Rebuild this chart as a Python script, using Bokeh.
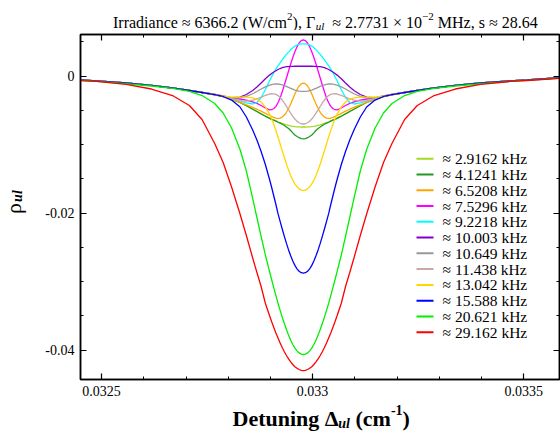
import math
from bokeh.plotting import figure
from bokeh.layouts import column, row
from bokeh.models import (Range1d, LinearAxis, FixedTicker, CustomJSTickFormatter,
                          Label, Arrow)
from bokeh.embed import file_html
from bokeh.resources import INLINE

# ---------------- data ----------------
CENTER = 0.032978  # line centre (cm^-1)
# detuning offsets from the centre (cm^-1); profiles are symmetric about CENTER
OFFSETS = [0.0, 0.000005, 0.00001, 0.000015, 0.00002, 0.000025, 0.00003, 0.000035,
           0.00004, 0.000045, 0.00005, 0.000055, 0.00006, 0.000065, 0.00007, 0.000075,
           0.00008, 0.00009, 0.0001, 0.00011, 0.00012, 0.000135, 0.00015, 0.00017,
           0.00019, 0.00021, 0.00024, 0.00027, 0.00031, 0.00036, 0.00042, 0.00049,
           0.00053, 0.00061]

LABELS = ["≈ 2.9162 kHz", "≈ 4.1241 kHz", "≈ 6.5208 kHz", "≈ 7.5296 kHz",
          "≈ 9.2218 kHz", "≈ 10.003 kHz", "≈ 10.649 kHz", "≈ 11.438 kHz",
          "≈ 13.042 kHz", "≈ 15.588 kHz", "≈ 20.621 kHz", "≈ 29.162 kHz"]
COLORS = ["#a6d81e", "#229922", "#ffa500", "#ff00ff", "#00ffff", "#8000d0",
          "#999999", "#c8a8a8", "#ffd700", "#0000ff", "#00f000", "#ff0000"]

RHO_2_9162 = [-0.00742, -0.00742, -0.00740, -0.00739, -0.00736, -0.00732, -0.00726, -0.00718, -0.00710, -0.00699,
              -0.00689, -0.00677, -0.00666, -0.00653, -0.00640, -0.00626, -0.00612, -0.00581, -0.00548, -0.00513,
              -0.00479, -0.00428, -0.00384, -0.00337, -0.00299, -0.00272, -0.00238, -0.00209, -0.00172, -0.00133,
              -0.00099, -0.00067, -0.00053, -0.00022]
RHO_4_1241 = [-0.00914, -0.00910, -0.00898, -0.00880, -0.00859, -0.00828, -0.00793, -0.00764, -0.00742, -0.00720,
              -0.00702, -0.00686, -0.00672, -0.00656, -0.00642, -0.00629, -0.00615, -0.00584, -0.00550, -0.00515,
              -0.00482, -0.00431, -0.00384, -0.00337, -0.00299, -0.00272, -0.00238, -0.00209, -0.00172, -0.00133,
              -0.00099, -0.00067, -0.00053, -0.00022]
RHO_6_5208 = [-0.00102, -0.00112, -0.00143, -0.00194, -0.00260, -0.00334, -0.00407, -0.00472, -0.00527, -0.00568,
              -0.00596, -0.00612, -0.00616, -0.00612, -0.00602, -0.00588, -0.00574, -0.00542, -0.00511, -0.00482,
              -0.00456, -0.00418, -0.00381, -0.00334, -0.00296, -0.00270, -0.00238, -0.00209, -0.00172, -0.00133,
              -0.00099, -0.00067, -0.00053, -0.00022]
RHO_7_5296 = [0.00531, 0.00520, 0.00485, 0.00429, 0.00358, 0.00273, 0.00178, 0.00076, -0.00026, -0.00129,
              -0.00228, -0.00318, -0.00388, -0.00440, -0.00472, -0.00489, -0.00491, -0.00464, -0.00428, -0.00396,
              -0.00374, -0.00349, -0.00333, -0.00315, -0.00289, -0.00267, -0.00238, -0.00209, -0.00172, -0.00133,
              -0.00099, -0.00067, -0.00053, -0.00022]
RHO_9_2218 = [0.00473, 0.00472, 0.00466, 0.00456, 0.00440, 0.00416, 0.00387, 0.00352, 0.00320, 0.00280,
              0.00238, 0.00193, 0.00150, 0.00104, 0.00054, -0.00007, -0.00067, -0.00197, -0.00311, -0.00384,
              -0.00406, -0.00391, -0.00362, -0.00326, -0.00294, -0.00267, -0.00238, -0.00209, -0.00172, -0.00133,
              -0.00099, -0.00067, -0.00053, -0.00022]
RHO_10_003 = [0.00145, 0.00145, 0.00145, 0.00145, 0.00145, 0.00143, 0.00142, 0.00140, 0.00139, 0.00133,
              0.00124, 0.00112, 0.00098, 0.00080, 0.00061, 0.00039, 0.00016, -0.00038, -0.00099, -0.00158,
              -0.00209, -0.00267, -0.00304, -0.00318, -0.00294, -0.00267, -0.00238, -0.00209, -0.00172, -0.00133,
              -0.00099, -0.00067, -0.00053, -0.00022]
RHO_10_649 = [-0.00223, -0.00222, -0.00218, -0.00210, -0.00202, -0.00190, -0.00177, -0.00164, -0.00149, -0.00136,
              -0.00126, -0.00118, -0.00114, -0.00114, -0.00117, -0.00123, -0.00131, -0.00155, -0.00187, -0.00223,
              -0.00256, -0.00294, -0.00315, -0.00318, -0.00292, -0.00267, -0.00238, -0.00209, -0.00172, -0.00133,
              -0.00099, -0.00067, -0.00053, -0.00022]
RHO_11_438 = [-0.00698, -0.00694, -0.00680, -0.00657, -0.00625, -0.00586, -0.00540, -0.00491, -0.00440, -0.00391,
              -0.00348, -0.00311, -0.00283, -0.00266, -0.00257, -0.00256, -0.00260, -0.00279, -0.00304, -0.00329,
              -0.00348, -0.00364, -0.00358, -0.00329, -0.00296, -0.00267, -0.00238, -0.00209, -0.00172, -0.00133,
              -0.00099, -0.00067, -0.00053, -0.00022]
RHO_13_042 = [-0.01669, -0.01663, -0.01645, -0.01615, -0.01572, -0.01517, -0.01450, -0.01371, -0.01282, -0.01187,
              -0.01088, -0.00987, -0.00888, -0.00793, -0.00705, -0.00623, -0.00553, -0.00447, -0.00377, -0.00337,
              -0.00317, -0.00305, -0.00305, -0.00304, -0.00286, -0.00267, -0.00238, -0.00209, -0.00172, -0.00133,
              -0.00099, -0.00067, -0.00053, -0.00022]
RHO_15_588 = [-0.02876, -0.02869, -0.02847, -0.02812, -0.02762, -0.02698, -0.02622, -0.02536, -0.02441, -0.02339,
              -0.02231, -0.02120, -0.02007, -0.01873, -0.01749, -0.01625, -0.01508, -0.01289, -0.01099, -0.00932,
              -0.00786, -0.00596, -0.00450, -0.00348, -0.00296, -0.00270, -0.00238, -0.00209, -0.00172, -0.00133,
              -0.00099, -0.00067, -0.00053, -0.00022]
RHO_20_621 = [-0.04063, -0.04057, -0.04040, -0.04010, -0.03970, -0.03917, -0.03854, -0.03780, -0.03698, -0.03610,
              -0.03517, -0.03418, -0.03314, -0.03204, -0.03091, -0.02972, -0.02854, -0.02610, -0.02340, -0.02063,
              -0.01785, -0.01384, -0.01070, -0.00756, -0.00537, -0.00399, -0.00282, -0.00223, -0.00178, -0.00143,
              -0.00110, -0.00075, -0.00060, -0.00028]
RHO_29_162 = [-0.04297, -0.04294, -0.04282, -0.04264, -0.04241, -0.04209, -0.04171, -0.04127, -0.04078, -0.04022,
              -0.03961, -0.03895, -0.03823, -0.03749, -0.03669, -0.03586, -0.03498, -0.03315, -0.03070, -0.02866,
              -0.02654, -0.02326, -0.02012, -0.01618, -0.01260, -0.00983, -0.00632, -0.00428, -0.00282, -0.00187,
              -0.00118, -0.00077, -0.00063, -0.00031]

SERIES = [RHO_2_9162, RHO_4_1241, RHO_6_5208, RHO_7_5296, RHO_9_2218, RHO_10_003,
          RHO_10_649, RHO_11_438, RHO_13_042, RHO_15_588, RHO_20_621, RHO_29_162]

X_TICKS = [0.0325, 0.033, 0.0335]
Y_TICKS = [-0.04, -0.02, 0.0]
X_MINOR = [0.0325, 0.0326, 0.0327, 0.0328, 0.0329, 0.033, 0.0331, 0.0332, 0.0333, 0.0334, 0.0335]
Y_MINOR = [-0.04, -0.035, -0.03, -0.025, -0.02, -0.015, -0.01, -0.005, 0.0, 0.005]
X_RANGE = (0.03245, 0.033585)
Y_RANGE = (-0.04428, 0.006088)

SERIF = "Liberation Serif"

# ---------------- main figure ----------------
p = figure(width=524, height=374, title=None,
           x_range=Range1d(*X_RANGE), y_range=Range1d(*Y_RANGE),
           output_backend="svg", toolbar_location=None,
           min_border_left=44, min_border_right=1, min_border_top=4, min_border_bottom=25)
p.xgrid.visible = False
p.ygrid.visible = False
p.outline_line_color = "black"
p.outline_line_width = 1.5
p.background_fill_color = "white"
p.border_fill_color = "white"

fmt = CustomJSTickFormatter(code="return parseFloat(tick.toFixed(6)).toString();")
blank = CustomJSTickFormatter(code="return '';")


def style_axis(ax, ticks, minor, show_labels):
    ax.ticker = FixedTicker(ticks=ticks, minor_ticks=minor)
    ax.axis_line_color = "black"
    ax.axis_line_width = 1.5
    ax.major_tick_line_color = "black"
    ax.minor_tick_line_color = "black"
    ax.major_tick_line_width = 1.2
    ax.minor_tick_line_width = 1.0
    ax.major_tick_in = 6
    ax.major_tick_out = 0
    ax.minor_tick_in = 3
    ax.minor_tick_out = 0
    if show_labels:
        ax.formatter = fmt
        ax.major_label_text_font = SERIF
        ax.major_label_text_font_size = "14px"
        ax.major_label_text_color = "black"
        ax.major_label_standoff = 6
    else:
        ax.formatter = blank
        ax.major_label_text_font_size = "0px"
        ax.major_label_standoff = 0


style_axis(p.xaxis[0], X_TICKS, X_MINOR, True)
style_axis(p.yaxis[0], Y_TICKS, Y_MINOR, True)
top_ax = LinearAxis()
right_ax = LinearAxis()
style_axis(top_ax, X_TICKS, X_MINOR, False)
style_axis(right_ax, Y_TICKS, Y_MINOR, False)
p.add_layout(top_ax, "above")
p.add_layout(right_ax, "right")

xs = [CENTER - o for o in reversed(OFFSETS[1:])] + [CENTER + o for o in OFFSETS]
for col, half in zip(COLORS, SERIES):
    ys = list(reversed(half[1:])) + list(half)
    p.line(xs, ys, line_color=col, line_width=1.3)

# legend: samples + labels, in frame-relative screen units
LEG_X0, LEG_X1, LEG_TX = 336, 353, 362     # sample start/end, text start
LEG_Y0, LEG_DY = 220.7, 15.76              # first row centre (from frame bottom), row pitch
for i, (lab_text, col) in enumerate(zip(LABELS, COLORS)):
    yy = LEG_Y0 - i * LEG_DY
    p.add_layout(Arrow(x_start=LEG_X0, y_start=yy, x_end=LEG_X1, y_end=yy,
                       start_units="screen", end_units="screen", end=None, start=None,
                       line_color=col, line_width=2))
    p.add_layout(Label(x=LEG_TX, y=yy, x_units="screen", y_units="screen", text=lab_text,
                       text_font=SERIF, text_font_size="15.5px", text_color="black",
                       text_align="left", text_baseline="middle"))


# ---------------- text strips (their frame is the whole canvas) ----------------
def strip(w, h):
    f = figure(width=w, height=h, title=None, x_range=Range1d(0, 1), y_range=Range1d(0, 1),
               x_axis_type=None, y_axis_type=None, output_backend="svg",
               toolbar_location=None, min_border=0)
    f.outline_line_color = None
    f.background_fill_color = "white"
    f.border_fill_color = "white"
    return f


def lab(fig, text, x, y, size, style="normal", angle=0.0):
    fig.add_layout(Label(x=x, y=y, x_units="screen", y_units="screen", text=text,
                         text_font=SERIF, text_font_size=f"{size}px", text_font_style=style,
                         text_color="black", text_align="left", text_baseline="alphabetic",
                         angle=angle))


# title strip
t = strip(560, 30)
TY = 8
lab(t, "Irradiance ≈ 6366.2 (W/cm", 112.5, TY, 16)
lab(t, "2", 286.6, TY + 6, 11)
lab(t, "),", 292.1, TY, 16)
lab(t, "Γ", 305.4, TY, 16)
lab(t, "ul", 315.2, TY - 3, 11, "italic")
lab(t, "≈ 2.7731 × 10", 331.8, TY, 16)
lab(t, "−2", 421.6, TY + 6, 11)
lab(t, "MHz, s ≈ 28.64", 437.3, TY, 16)

# y-label strip
yl = strip(36, 374)
lab(yl, "ρ", 13, 165.5, 22, "normal", math.pi / 2)
lab(yl, "ul", 17, 177.6, 14, "bold italic", math.pi / 2)

# x-label strip
xl = strip(560, 30)
XY = 16
lab(xl, "Detuning Δ", 232, XY, 22, "bold")
lab(xl, "ul", 337.8, XY - 5, 14, "bold italic")
lab(xl, "(cm", 355, XY, 22, "bold")
lab(xl, "-1", 390.4, XY + 9, 14, "bold")
lab(xl, ")", 402.1, XY, 22, "bold")

layout = column(t, row(yl, p), xl)
open("out.html", "w").write(file_html(layout, INLINE))
